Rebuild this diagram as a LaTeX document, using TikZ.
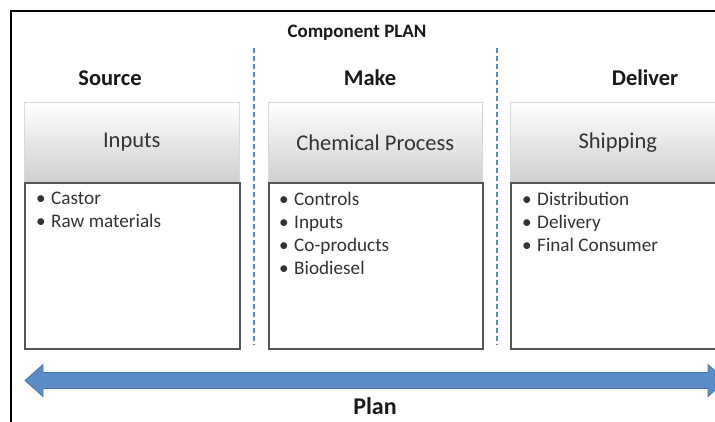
\documentclass[tikz,border=0pt]{standalone}
\usepackage{fontspec}
\setmainfont{Carlito}
\definecolor{arrowblue}{HTML}{5B8CC8}
\definecolor{arrowedge}{HTML}{4A77AE}
\definecolor{dashblue}{HTML}{5A86BA}
\definecolor{boxedge}{HTML}{555555}
\definecolor{txtgray}{HTML}{333333}
\tikzset{
  hdr/.style={anchor=north west, minimum width=215, minimum height=80, inner sep=0pt,
    draw=gray!30, line width=0.6pt, top color=white, middle color=gray!10, bottom color=gray!38,
    font=\fontsize{22.5}{26}\selectfont, text=txtgray},
  bodybox/.style={anchor=north west, minimum width=215, minimum height=166, inner sep=0pt,
    draw=boxedge, line width=1.5pt, fill=white},
  heading/.style={font=\bfseries\fontsize{22.5}{26}\selectfont, text=black!90, anchor=base},
  bullets/.style={anchor=north west, inner sep=0pt, align=left, text=txtgray,
    font=\fontsize{19.2}{23}\selectfont},
  sep/.style={draw=dashblue, line width=1.8pt, dash pattern=on 4.5pt off 3.5pt},
  frameline/.style={line width=1.6pt, draw=black},
}
\newcommand{\bul}[1]{\makebox[15pt][l]{\textbullet}#1}
\begin{document}
\begin{tikzpicture}[x=1pt,y=-1pt]
\useasboundingbox (0,0) rectangle (715,421);
\fill[white] (0,0) rectangle (715,421);
\begin{scope}
\clip (0,0) rectangle (715,421);
% frame
\coordinate (fbl) at (11,430);
\coordinate (ftl) at (11,11);
\coordinate (ftr) at (725,11);
\draw[frameline] (fbl) -- (ftl) -- (ftr);
% title
\node[font=\bfseries\fontsize{19}{22}\selectfont, anchor=base, text=black!90] (title) at (357,37) {Component PLAN};
% separators
\coordinate (s1t) at (254,48); \coordinate (s1b) at (254,345);
\coordinate (s2t) at (497,48); \coordinate (s2b) at (497,345);
\draw[sep] (s1t) -- (s1b);
\draw[sep] (s2t) -- (s2b);
% headings
\node[heading] (hsrc) at (110,85) {Source};
\node[heading] (hmake) at (370,85) {Make};
\node[heading] (hdel) at (645,85) {Deliver};
% boxes
\node[hdr] (srcH) at (24,102) {Inputs};
\node[bodybox] (srcB) at (24,182) {};
\node[hdr, minimum width=214] (makeH) at (268,102) {Chemical Process};
\node[bodybox, minimum width=214] (makeB) at (268,182) {};
\node[hdr, minimum width=270] (delH) at (510,102) {\hspace*{-55pt}Shipping};
\node[bodybox, minimum width=270] (delB) at (510,182) {};
% bullet lists
\node[bullets] (srcL) at (36,192) {\bul{Castor}\\\bul{Raw materials}};
\node[bullets] (makeL) at (279,192) {\bul{Controls}\\\bul{Inputs}\\\bul{Co-products}\\\bul{Biodiesel}};
\node[bullets] (delL) at (522,192) {\bul{Distribution}\\\bul{Delivery}\\\bul{Final Consumer}};
% plan arrow
\fill[arrowblue, draw=arrowedge, line width=0.8pt]
  (25,380.5) -- (43,364.5) -- (43,372.5) -- (708,372.5) -- (708,364.5) -- (726,380.5)
  -- (708,396.5) -- (708,388.5) -- (43,388.5) -- (43,396.5) -- cycle;
\node[font=\bfseries\fontsize{24}{28}\selectfont, anchor=base, inner sep=0pt, text depth=0pt, text=black!90] (plan) at (375,414) {Plan};
\end{scope}
\end{tikzpicture}
\end{document}
